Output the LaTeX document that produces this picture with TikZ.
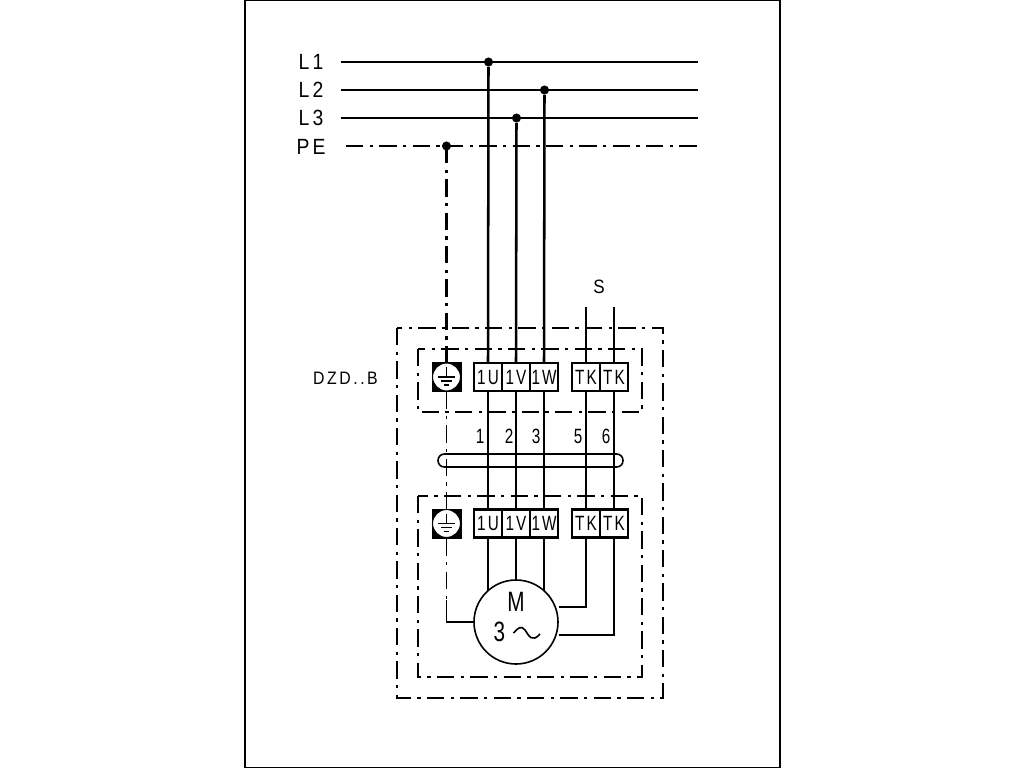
\documentclass[tikz,border=0pt]{standalone}
\usepackage{fontspec}
\setmainfont{Liberation Sans}
\newfontfamily\platefont[FakeStretch=0.88,LetterSpace=14]{Liberation Sans}
\newfontfamily\termfont[FakeStretch=0.74,LetterSpace=10]{Liberation Sans}
\tikzset{
  busline/.style={line width=1.9pt},
  wireline/.style={line width=1.2pt},
  dashdot/.style={dash pattern=on 13pt off 4.8pt on 2.4pt off 4.8pt},
  boxline/.style={wireline, dashdot},
  terminal/.style={draw, line width=1.8pt, minimum width=21pt, minimum height=21pt, inner sep=0pt, font=\termfont\fontsize{15.5}{16}\selectfont},
  earthbox/.style={draw, fill=black, line width=1.5pt, minimum width=21pt, minimum height=21pt, inner sep=0pt},
  buslabel/.style={font=\platefont\fontsize{16.5}{17}\selectfont},
  coreno/.style={font=\termfont\fontsize{15.5}{16}\selectfont},
  junction/.style={circle, fill=black, minimum size=6.8pt, inner sep=0pt}
}
\begin{document}
\begin{tikzpicture}[x=0.75pt, y=-0.75pt]
  \useasboundingbox (0,0) rectangle (1024,768);
  \fill[white] (0,0) rectangle (1024,768);
  \draw[line width=0.9pt] (245,0.5) rectangle (780,767.5);
  % Netz
  \foreach \ypos/\name in {62/L1, 90/L2, 118/L3} {
    \node[buslabel] (lab\name) at (311,\ypos) {\name};
    \coordinate (start\name) at (341,\ypos);
    \coordinate (end\name) at (698,\ypos);
    \draw[busline] (start\name) -- (end\name);
  }
  \node[buslabel] (labPE) at (311,147) {PE};
  \coordinate (startPE) at (346,146);
  \coordinate (endPE) at (698,146);
  \draw[busline, dashdot] (startPE) -- (endPE);
  % Schutzkaesten
  \draw[boxline] (397,328) rectangle (663,698);
  \draw[boxline] (418,349) rectangle (642,412);
  \draw[boxline] (418,496) rectangle (642,677);
  \node[font=\platefont\fontsize{13.5}{14}\selectfont] (type) at (345.5,378) {DZD..B};
  % Klemmen oben (t) und unten (b)
  \foreach \row/\ypos in {t/377, b/523.5} {
    \foreach \xpos/\id/\name in {488/a/1U, 516/b/1V, 544/c/1W, 586/d/TK, 614/e/TK} {
      \node[terminal] (\row\id) at (\xpos,\ypos) {\name};
    }
    \node[earthbox] (\row pe) at (446.5,\ypos) {};
    \node[circle, fill=white, draw, line width=0.8pt, minimum size=21pt, inner sep=0pt] (\row gnd) at (446.5,\ypos) {};
    \draw[line width=0.8pt] (446.5,\ypos-10) -- (446.5,\ypos)
      (438,\ypos) -- (455,\ypos) (441,\ypos+4) -- (452,\ypos+4) (444,\ypos+8) -- (449,\ypos+8);
  }
  % Zuleitungen
  \foreach \xpos/\name/\id in {488.5/L1/a, 544.5/L2/c, 516.5/L3/b} {
    \node[junction] (j\id) at (\xpos,0 |- start\name) {};
    \draw[busline] (j\id) -- (t\id.north);
  }
  \node[junction] (jpe) at (446.5,146) {};
  \draw[busline, dashdot] (jpe.center) -- (tpe.north);
  \coordinate (sd) at (586,307);
  \coordinate (se) at (614,307);
  \draw[busline] (sd) -- (td.north);
  \draw[busline] (se) -- (te.north);
  \node[font=\platefont\fontsize{14.5}{15}\selectfont] (slabel) at (599,287) {S};
  % Adern
  \foreach \id in {a,b,c,d,e} {
    \draw[wireline] (t\id.south) -- (b\id.north);
  }
  \draw[wireline, dashdot] (tpe.south) -- (bpe.north);
  \foreach \xpos/\name in {480/1, 509/2, 536/3, 578/5, 606/6} {
    \node[coreno] (no\name) at (\xpos,436) {\name};
  }
  \node[draw, wireline, rounded corners=4.8pt, minimum width=138.75pt, minimum height=9.75pt, inner sep=0pt] (bundle) at (530.5,460.5) {};
  % Motor
  \node[draw, circle, wireline, fill=white, minimum size=63pt, inner sep=0pt] (motor) at (516,622) {};
  \node[font=\termfont\fontsize{21}{22}\selectfont] (mlabel) at (516,602) {M};
  \node[font=\termfont\fontsize{21}{22}\selectfont] (mphase) at (499.5,632) {3};
  \draw[wireline] (513.5,633) .. controls (518,628) and (521,625) .. (525,630) .. controls (529,636) and (532,643) .. (540,634);
  \coordinate (ka) at (488,590.7);
  \coordinate (kc) at (544,590.7);
  \draw[wireline] (ba.south) -- (ka);
  \draw[wireline] (bb.south) -- (motor.north);
  \draw[wireline] (bc.south) -- (kc);
  \coordinate (kpe) at (446.5,622);
  \coordinate (kd) at (586,607);
  \coordinate (ke) at (614,635);
  \draw[wireline, dashdot] (bpe.south) -- (446.5,600);
  \draw[wireline] (446.5,600) -- (kpe) -- (motor.west);
  \draw[wireline] (bd.south) -- (kd) -- (motor.east |- kd);
  \draw[wireline] (be.south) -- (ke) -- (motor.east |- ke);
\end{tikzpicture}
\end{document}
